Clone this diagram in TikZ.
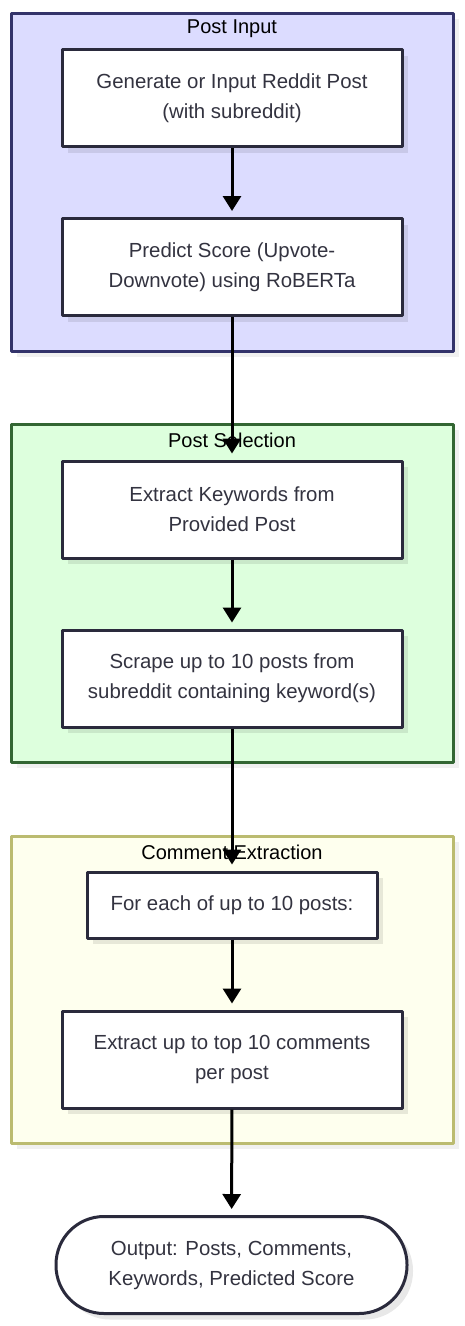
\documentclass[tikz,border=0pt]{standalone}
\usepackage{fontspec}
\setmainfont{Liberation Sans}
\usetikzlibrary{arrows.meta}
\usetikzlibrary{shadows}

\definecolor{inputfill}{HTML}{DCDCFF}
\definecolor{inputline}{HTML}{33336A}
\definecolor{selfill}{HTML}{DDFFDD}
\definecolor{selline}{HTML}{336633}
\definecolor{extrfill}{HTML}{FEFFEE}
\definecolor{extrline}{HTML}{BBBB70}
\definecolor{boxline}{HTML}{2A2A3C}
\definecolor{boxtext}{HTML}{333340}

\tikzset{
  stepbox/.style={draw=boxline,fill=white,line width=3pt,text=boxtext,
    minimum width=340pt,minimum height=97pt,align=center,
    font=\fontsize{20.4}{30}\selectfont,
    drop shadow={shadow xshift=6pt,shadow yshift=-6pt,fill=black,opacity=0.09}},
  cluster/.style={line width=3pt,
    drop shadow={shadow xshift=6pt,shadow yshift=-6pt,fill=black,opacity=0.06}},
  clustertitle/.style={font=\fontsize{20}{24}\selectfont,text=black},
  flow/.style={line width=3pt,-{Triangle[length=15pt,width=18pt]},shorten >=6pt}
}

\begin{document}
\begin{tikzpicture}[x=1pt,y=-1pt,line join=round]
				\useasboundingbox (0,0) rectangle (464,1326);

				% Post Input
				\draw[cluster,draw=inputline,fill=inputfill] (11,13) rectangle (453,351);
				\node[clustertitle] (tinput) at (232,29) {Post Input};
				\node[stepbox] (gen) at (232,98) {Generate or Input Reddit Post\\(with subreddit)};
				\node[stepbox] (pred) at (232,267) {Predict Score (Upvote-\\Downvote) using RoBERTa};

				% Post Selection
				\draw[cluster,draw=selline,fill=selfill] (11,424) rectangle (453,762);
				\node[clustertitle] (tsel) at (232,440) {Post Selection};
				\node[stepbox] (keyw) at (232,509.5) {Extract Keywords from\\Provided Post};
				\node[stepbox] (scrape) at (232,678.5) {Scrape up to 10 posts from\\subreddit containing keyword(s)};

				% Comment Extraction
				\draw[cluster,draw=extrline,fill=extrfill] (11,836) rectangle (453,1143);
				\node[clustertitle] (textr) at (232,852) {Comment Extraction};
				\node[stepbox,minimum width=290pt,minimum height=66pt] (each) at (232,905) {For each of up to 10 posts:};
				\node[stepbox] (comm) at (232,1059.5) {Extract up to top 10 comments\\per post};

				% Output
				\node[stepbox,rounded corners=48pt,minimum width=351pt] (out) at (231.5,1265) {Output: Posts, Comments,\\Keywords, Predicted Score};

				\draw[flow] (gen) -- (pred);
				\draw[flow] (pred) -- (keyw);
				\draw[flow] (keyw) -- (scrape);
				\draw[flow] (scrape) -- (each);
				\draw[flow] (each) -- (comm);
				\draw[flow] (comm) -- (out);
\end{tikzpicture}
\end{document}
